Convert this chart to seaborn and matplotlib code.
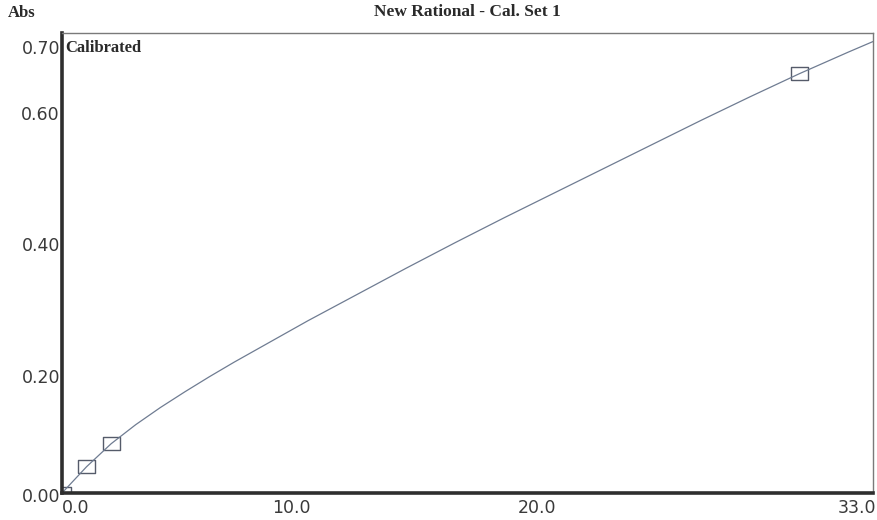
import numpy as np
import pandas as pd
import matplotlib
matplotlib.use("Agg")
import matplotlib.pyplot as plt
import matplotlib.transforms as mtransforms
import seaborn as sns

# Calibration standards (concentration, absorbance)
std_conc = [0.0, 1.0, 2.0, 30.0]
std_abs = [0.000, 0.040, 0.075, 0.638]

# Fitted "New Rational" calibration curve, sampled along the concentration axis
curve_conc = [0, 1, 2, 3, 4, 5, 6, 7, 8, 10, 12, 14, 16, 18, 20, 22, 24, 26, 28, 30, 32, 33]
curve_abs = [0.000, 0.040, 0.075, 0.104, 0.130, 0.154, 0.177, 0.199, 0.220, 0.262, 0.302,
             0.342, 0.381, 0.419, 0.456, 0.493, 0.530, 0.567, 0.603, 0.638, 0.671, 0.687]

x_ticks = [0, 10, 20, 33]
x_labels = ["0.0", "10.0", "20.0", "33.0"]
y_ticks = [0.0, 0.2, 0.4, 0.6, 0.7]
y_labels = ["0.00", "0.20", "0.40", "0.60", "0.70"]

sns.set_style("white")
plt.rcParams["font.family"] = ["DejaVu Sans"]

W, H, DPI = 877, 520, 100
fig = plt.figure(figsize=(W / DPI, H / DPI), dpi=DPI)
ax = fig.add_axes([62 / W, 1 - 493 / H, (873 - 62) / W, (493 - 33) / H])

curve = pd.DataFrame({"conc": curve_conc, "abs": curve_abs})
stds = pd.DataFrame({"conc": std_conc, "abs": std_abs})

sns.lineplot(data=curve, x="conc", y="abs", ax=ax, color="#6f7c92", linewidth=0.9,
             estimator=None, sort=True)

rect = [(-1.35, -1), (1.35, -1), (1.35, 1), (-1.35, 1), (-1.35, -1)]
sns.scatterplot(data=stds, x="conc", y="abs", ax=ax, marker=rect, s=150,
                facecolor="none", edgecolor="#555b6a", linewidth=1.0, zorder=1.5)

ax.set_xlim(0, 33)
ax.set_ylim(0, 0.70)
ax.set_xlabel("")
ax.set_ylabel("")

ax.set_xticks(x_ticks)
ax.set_xticklabels(x_labels)
ax.set_yticks(y_ticks)
ax.set_yticklabels(y_labels)
ax.tick_params(axis="both", length=0, labelsize=12.5, colors="#3a3a3a")
ax.tick_params(axis="x", pad=4)
ax.tick_params(axis="y", pad=1.5)

for i, lab in enumerate(ax.get_xticklabels()):
    lab.set_horizontalalignment("left" if i == 0 else "right")
    if i > 0:
        lab.set_transform(lab.get_transform() +
                          mtransforms.ScaledTranslation(3 / DPI, 0, fig.dpi_scale_trans))

for i, lab in enumerate(ax.get_yticklabels()):
    dy = -2 if i == 0 else -14
    lab.set_transform(lab.get_transform() +
                      mtransforms.ScaledTranslation(0, dy / DPI, fig.dpi_scale_trans))

for side in ("top", "right"):
    ax.spines[side].set_color("#7a7a7a")
    ax.spines[side].set_linewidth(1.0)
for side in ("left", "bottom"):
    ax.spines[side].set_color("#2e2e2e")
    ax.spines[side].set_linewidth(2.6)

serif = ["Liberation Serif", "DejaVu Serif"]
fig.text((62 + 873) / 2 / W, 1 - 12 / H, "New Rational - Cal. Set 1", ha="center",
         va="center", fontsize=12.5, fontweight="bold", family=serif, color="#2a2a2a")
fig.text(8 / W, 1 - 13 / H, "Abs", ha="left", va="center", fontsize=12,
         fontweight="bold", family=serif, color="#2a2a2a")
ax.text(0.004, 0.985, "Calibrated", transform=ax.transAxes, ha="left", va="top",
        fontsize=12, fontweight="bold", family=serif, color="#2a2a2a")

fig.savefig("out.png", dpi=DPI, facecolor="white")
